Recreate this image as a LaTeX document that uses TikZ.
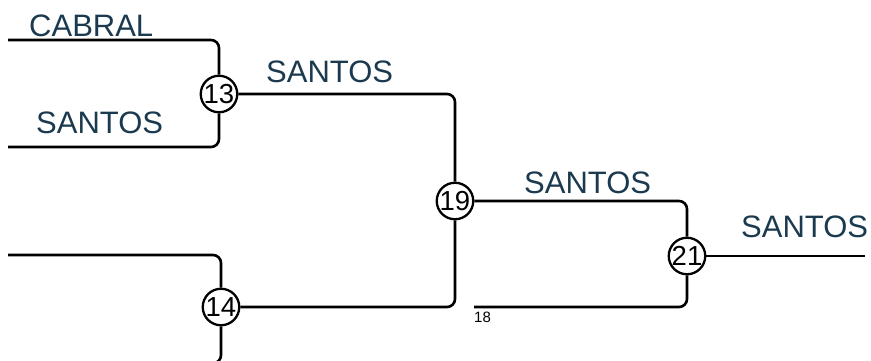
\documentclass[tikz,border=0pt]{standalone}
\usepackage{fontspec}
\setmainfont{Liberation Sans}
\usepackage{tikz}
\definecolor{teamblue}{HTML}{1B3A4F}
\begin{document}
\begin{tikzpicture}[x=1pt,y=-1pt]
\tikzstyle{every node}+=[inner sep=0pt]
\tikzstyle{match}=[draw,circle,line width=2.3pt,minimum size=36.5pt,fill=white,font=\fontsize{27.5}{27.5}\selectfont]
\tikzstyle{team}=[anchor=base west,text=teamblue,font=\fontsize{31}{31}\selectfont]
\tikzstyle{bracket}=[line width=2.6pt,rounded corners=8pt]
\useasboundingbox (0,0) rectangle (871,360);
\clip (0,0) rectangle (871,360);
\node [match] (m13) at (219,94) {13};
\node [match] (m14) at (221,307) {14};
\node [match] (m19) at (455,201) {19};
\node [match] (m21) at (687,256) {21};
\coordinate (cabral) at (8,40);
\coordinate (santos) at (8,147);
\coordinate (e14a) at (8,255);
\coordinate (e14b) at (100,363.2);
\coordinate (e18) at (474,307);
\coordinate (winner) at (865,256);
\draw [bracket] (cabral) -| (m13);
\draw [bracket] (santos) -| (m13);
\draw [bracket] (e14a) -| (m14);
\draw [bracket] (m14) |- (e14b);
\draw [bracket] (m13) -| (m19);
\draw [bracket] (m14) -| (m19);
\draw [bracket] (m19) -| (m21);
\draw [bracket] (m21) |- (e18);
\draw [bracket] (m21) -- (winner);
\node [team] (t1) at (29,36) {CABRAL};
\node [team] (t2) at (36,133) {SANTOS};
\node [team] (t3) at (266,82) {SANTOS};
\node [team] (t4) at (524,193) {SANTOS};
\node [team] (t5) at (741,237) {SANTOS};
\node [anchor=west,font=\fontsize{15}{15}\selectfont] (s18) at (474,317) {18};
\end{tikzpicture}
\end{document}
